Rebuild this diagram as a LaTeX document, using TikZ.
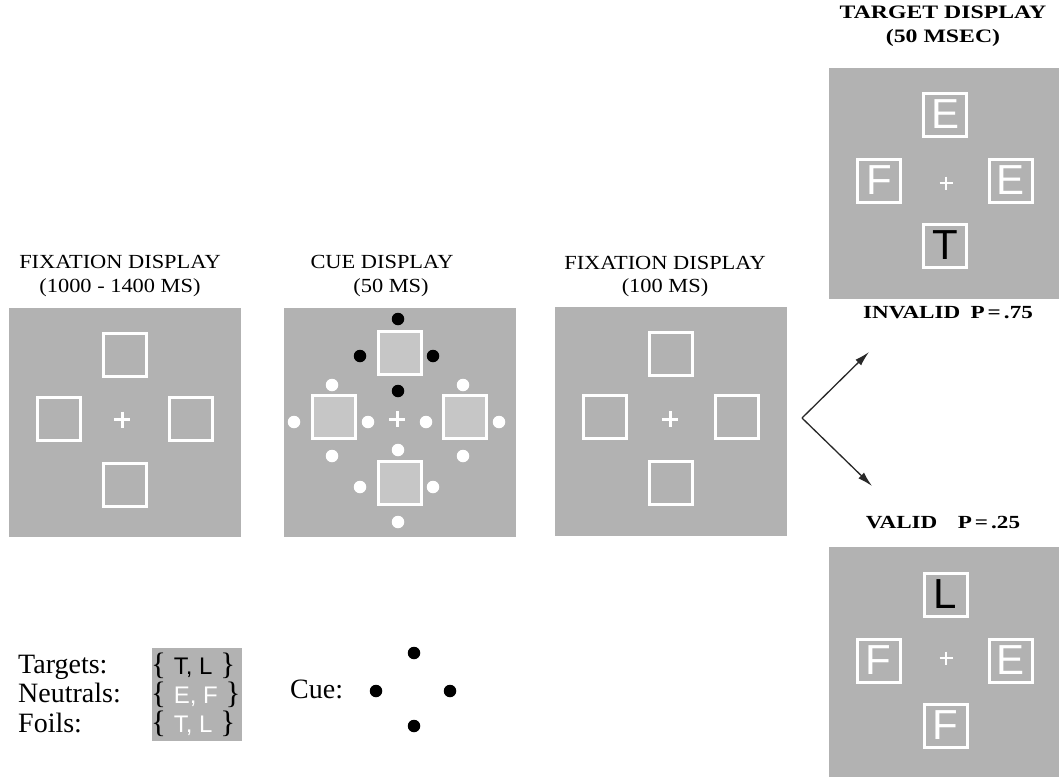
\documentclass[tikz,border=0pt]{standalone}
\usepackage{fontspec}
\setmainfont{Liberation Serif}
\setsansfont{Liberation Sans}
\newfontfamily\ttlfont[FakeStretch=1.12]{Liberation Serif}
\newfontfamily\ttlbold[FakeStretch=1.25]{Liberation Serif}
\usetikzlibrary{arrows.meta}
\definecolor{panelgray}{RGB}{178,178,178}
\definecolor{cuefill}{RGB}{198,198,198}
\definecolor{arrowgray}{RGB}{40,40,40}
\newcommand\myplus[4]{\draw[#1] (#2-#4,#3) -- (#2+#4,#3) (#2,#3-#4) -- (#2,#3+#4);}
\newcommand\lgs[1]{{\sffamily\fontsize{24}{24}\selectfont #1}}
\tikzset{
  panel/.style={fill=panelgray, draw=none, inner sep=0pt, minimum width=232pt, minimum height=229pt},
  sbox/.style={draw=white, line width=3pt, minimum size=43pt, inner sep=0pt,
    font=\sffamily\fontsize{42}{42}\selectfont},
  cuebox/.style={sbox, fill=cuefill},
  fixplus/.style={white, line width=3pt},
  tplus/.style={white, line width=2pt},
  bdot/.style={circle, fill=black, minimum size=12.5pt, inner sep=0pt},
  wdot/.style={circle, fill=white, minimum size=12.5pt, inner sep=0pt},
  ttl/.style={font=\ttlfont\fontsize{20}{24}\selectfont, anchor=base, inner sep=0pt},
  ttlb/.style={font=\ttlbold\bfseries\fontsize{19}{24}\selectfont, anchor=base, inner sep=0pt},
  plab/.style={font=\ttlbold\bfseries\fontsize{18.5}{20}\selectfont, anchor=base, inner sep=0pt},
  leg/.style={font=\fontsize{28}{29}\selectfont, anchor=base west, inner sep=0pt},
  brc/.style={font=\fontsize{31}{31}\selectfont, anchor=base west, inner sep=0pt},
  arr/.style={draw=arrowgray, line width=1.3pt, -{Latex[length=15pt,width=8pt]}},
}
\begin{document}
\begin{tikzpicture}[x=1pt,y=-1pt]
\useasboundingbox (0,0) rectangle (1059,777);
\fill[white] (0,0) rectangle (1059,777);

% ---------- Panel 1: fixation display ----------
\node[ttl] (t1a) at (120,268) {FIXATION DISPLAY};
\node[ttl] (t1b) at (120,292) {(1000 - 1400 MS)};
\node[panel] (p1) at (125,422.5) {};
\node[sbox] (p1t) at (125,354.5) {};
\node[sbox] (p1l) at (59,419) {};
\node[sbox] (p1r) at (191,419) {};
\node[sbox] (p1b) at (125,484.5) {};
\myplus{fixplus}{122}{419.5}{8}

% ---------- Panel 2: cue display ----------
\node[ttl] (t2a) at (382,268) {CUE DISPLAY};
\node[ttl] (t2b) at (391,292) {(50 MS)};
\node[panel] (p2) at (400,422) {};
\node[cuebox] (p2t) at (399.5,353) {};
\node[cuebox] (p2l) at (333.5,417) {};
\node[cuebox] (p2r) at (465,417) {};
\node[cuebox] (p2b) at (399.5,482.5) {};
\myplus{fixplus}{397}{419}{8}
% cue dots around top box (black)
\node[bdot] (c1) at (398,319) {};
\node[bdot] (c2) at (360,356) {};
\node[bdot] (c3) at (433,356) {};
\node[bdot] (c4) at (398,391) {};
% white dots around left box
\node[wdot] (w1) at (332,385) {};
\node[wdot] (w2) at (294,422) {};
\node[wdot] (w3) at (368,422) {};
\node[wdot] (w4) at (332,456) {};
% white dots around right box
\node[wdot] (w5) at (463,385) {};
\node[wdot] (w6) at (426,422) {};
\node[wdot] (w7) at (499,422) {};
\node[wdot] (w8) at (463,456) {};
% white dots around bottom box
\node[wdot] (w9) at (398,450) {};
\node[wdot] (w10) at (360,487) {};
\node[wdot] (w11) at (433,487) {};
\node[wdot] (w12) at (398,522) {};

% ---------- Panel 3: fixation display ----------
\node[ttl] (t3a) at (665,269) {FIXATION DISPLAY};
\node[ttl] (t3b) at (665,292) {(100 MS)};
\node[panel] (p3) at (671,421.5) {};
\node[sbox] (p3t) at (670.5,353.5) {};
\node[sbox] (p3l) at (605,417) {};
\node[sbox] (p3r) at (736.5,417) {};
\node[sbox] (p3b) at (670.5,482.5) {};
\myplus{fixplus}{670}{419}{8}

% ---------- Target display: invalid ----------
\node[ttlb] (t4a) at (943,18) {TARGET DISPLAY};
\node[ttlb] (t4b) at (943,42) {(50 MSEC)};
\node[panel, minimum width=230pt, minimum height=231pt] (p4) at (944,183.5) {};
\node[sbox, text=white] (p4t) at (945,114.5) {E};
\node[sbox, text=white] (p4l) at (879,180.5) {F};
\node[sbox, text=white] (p4r) at (1010.5,180.5) {E};
\node[sbox, text=black] (p4b) at (945,245.5) {T};
\myplus{tplus}{946}{183}{6.5}
\node[plab] (inv) at (948,318) {INVALID\hspace{0.55em}P\,=\,.75};

% ---------- Target display: valid ----------
\node[plab] (val) at (943,528) {VALID\hspace{1.1em}P\,=\,.25};
\node[panel, minimum width=230pt, minimum height=230pt] (p5) at (944,662) {};
\node[sbox, text=black] (p5t) at (945.5,594.5) {L};
\node[sbox, text=white] (p5l) at (878.5,660.5) {F};
\node[sbox, text=white] (p5r) at (1010.5,660.5) {E};
\node[sbox, text=white] (p5b) at (945.5,725.5) {F};
\myplus{tplus}{946}{658}{6.5}

% ---------- Arrows ----------
\coordinate (v) at (802,418);
\coordinate (tipinv) at (869,352);
\coordinate (tipval) at (872,486);
\draw[arr] (v) -- (tipinv);
\draw[arr] (v) -- (tipval);

% ---------- Legend ----------
\node[leg] (lt) at (18,673) {Targets:};
\node[leg] (ln) at (18,702) {Neutrals:};
\node[leg] (lf) at (18,732) {Foils:};
\node[fill=panelgray, inner sep=0pt, minimum width=90pt, minimum height=93pt] (lbox) at (197,694.5) {};
\node[brc] (r1) at (151,674) {\{ \lgs{T, L} \}};
\node[brc] (r2) at (151,703) {\{ \lgs{\color{white}E, F} \}};
\node[brc] (r3) at (151,732) {\{ \lgs{\color{white}T, L} \}};

\node[leg] (cue) at (290,698) {Cue:};
\node[bdot] (d1) at (414,653) {};
\node[bdot] (d2) at (376,691) {};
\node[bdot] (d3) at (450,691) {};
\node[bdot] (d4) at (414,726) {};
\end{tikzpicture}
\end{document}
